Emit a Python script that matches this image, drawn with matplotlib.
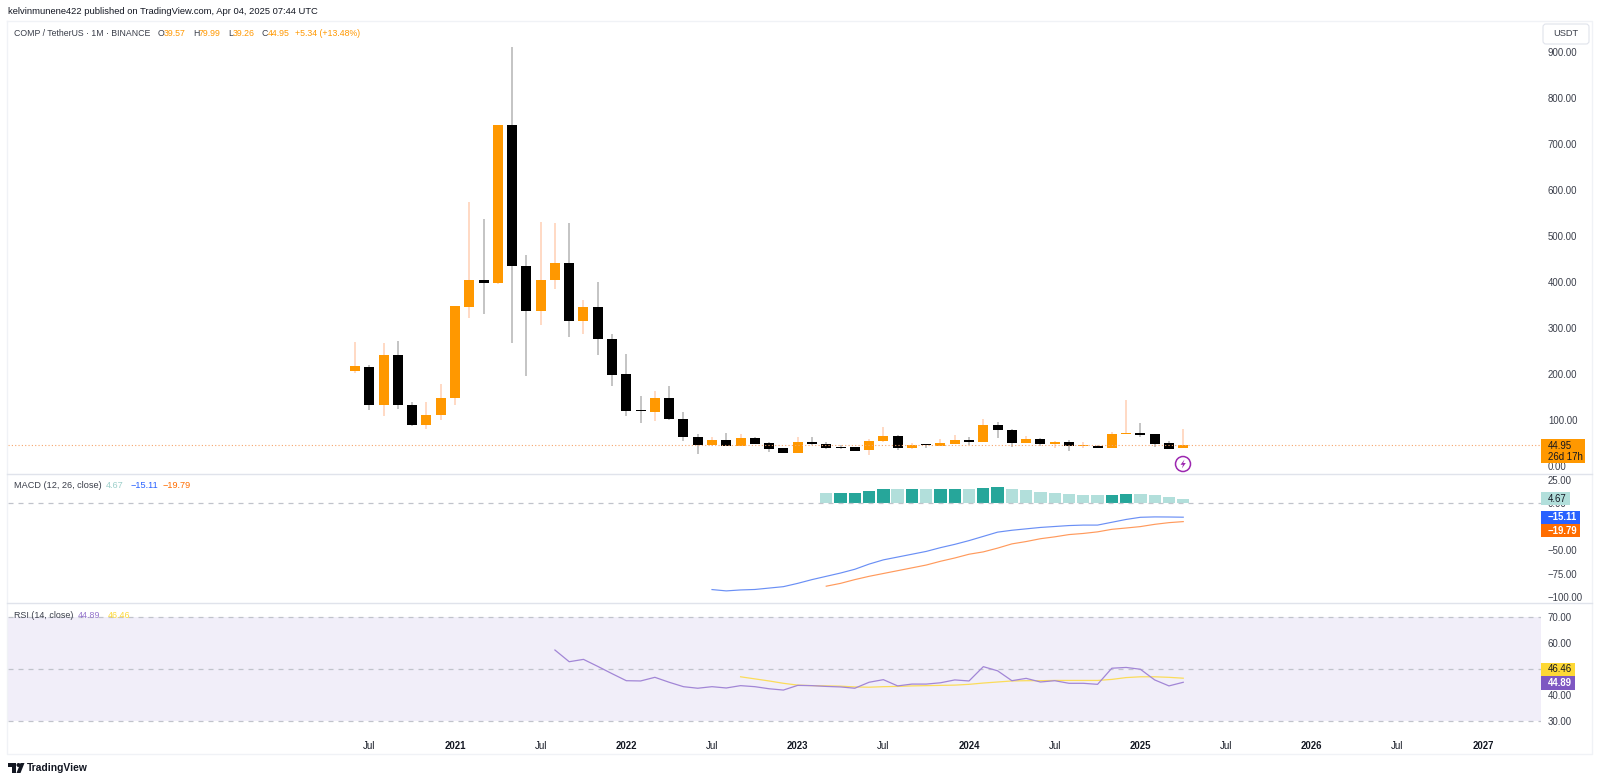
import numpy as np
from matplotlib import pyplot as plt
from matplotlib.patches import Rectangle, Circle, FancyBboxPatch, Polygon

plt.rcParams['font.family'] = ['Liberation Sans', 'DejaVu Sans']
plt.rcParams['axes.unicode_minus'] = False

# monthly candles, first one is Jun 2020
opens = [207.2, 216, 132.6, 241.3, 132.6, 89.1, 110.1, 147.8, 346.4, 404.3, 397.1, 741.3, 434.8, 336.2, 404.3,
         441, 315.2, 345.7, 276.8, 199.3, 120.5, 118.1, 148.5, 102.2, 63, 45.7, 56.5, 44.2, 60.1, 50,
         38.4, 29, 52.2, 47.8, 40.9, 40.9, 34, 54.3, 65.2, 39.1, 47.1, 43.5, 48.6, 56.5, 52.2,
         89.1, 78.9, 50, 58.7, 47.8, 51.4, 44.5, 43.5, 39.9, 70, 72, 68.8, 50, 39.57]
highs = [268.9, 219.6, 266.7, 272.5, 139.9, 138.4, 178.3, 347.5, 573.2, 536.2, 742, 910.9, 458.7, 530.4, 529,
         529, 360.9, 400, 287, 243.5, 152.2, 163.8, 173.9, 116.7, 68.8, 63.7, 71, 68.8, 62.3, 52.9,
         39, 62.3, 63, 52.2, 46.4, 41.5, 58, 85.5, 67.4, 49.3, 47.8, 58.7, 67.4, 62.3, 102.2,
         95.7, 80.3, 65.2, 60.8, 53.6, 55.8, 52.2, 45.7, 73, 143.5, 92.8, 69.5, 54.9, 79.99]
lows = [202.9, 121.7, 109.4, 123.9, 87.7, 81.2, 100, 133.3, 322.5, 330.4, 396, 268.1, 196.4, 306.5, 384.8,
        279.7, 287, 242, 173.9, 108, 92.8, 97.8, 100, 53.6, 26.1, 44.2, 43.5, 43.5, 47.8, 31.2,
        28, 28.5, 45.7, 36.2, 37, 33, 23.2, 51.4, 35.5, 36.2, 38.4, 43, 47.8, 45, 51.5,
        61.6, 42, 49.3, 43.5, 39.1, 33.6, 38.4, 38.4, 38.4, 69, 63.7, 42, 37, 39.26]
closes = [216.7, 132.6, 241.3, 132.6, 89.1, 110.9, 147.8, 347.1, 404.3, 397.1, 741.3, 434.8, 336.2, 404.3, 442,
          315.2, 345.7, 276.1, 197.8, 119.6, 120, 147.8, 101.4, 62.3, 45.7, 56.5, 44.2, 60.1, 48.6, 37,
          29, 51.4, 47.1, 39.9, 39.9, 33.3, 55, 65.2, 38.4, 46.4, 45, 50, 56.5, 52.2, 89.1,
          77.5, 50, 58.7, 47.1, 52.2, 43.5, 45.7, 39.9, 70.3, 72.5, 67.4, 48.6, 37.8, 44.95]

# MACD, months counted from Jun 2020
macd_start = 25
macd_line = [-92.1, -93.5, -92.5, -92, -90.5, -89, -85.5, -81.5, -78, -74.5, -70.5, -65, -60.5, -57.5, -54.5, -51.5,
             -47.5, -44, -40, -35.5, -31, -29, -27.5, -26, -25, -24, -23.5, -23.5, -20.5, -17.5, -15.2, -14.8, -14.9, -15.11]
signal_start = 33
signal_line = [-88.5, -85.5, -81.5, -78, -75, -72, -69, -66, -62, -58.5, -54.5, -52, -48, -43.5, -41, -38,
               -36, -33.6, -32.4, -30.7, -28, -26.6, -25.1, -22.7, -20.9, -19.79]
hist_values = [10.3, 11, 11, 12.8, 14.5, 14.5, 14.5, 14.5, 14.5, 14.5, 14.5, 16.3, 17, 14.5, 13.5, 12,
               11, 9.6, 8.9, 8.2, 8.5, 9.6, 9.6, 8.2, 6.4, 4.67]
hist_dark = [0, 1, 1, 1, 1, 0, 1, 0, 1, 1, 0, 1, 1, 0, 0, 0, 0, 0, 0, 0, 1, 1, 0, 0, 0, 0]

# RSI
rsi_start = 14
rsi_line = [57.3, 52.8, 53.7, 51, 48.2, 45.5, 45.4, 46.8, 44.9, 43.2, 42.6, 43.2, 42.7, 43.6, 43.2, 42.4, 41.9, 43.7,
            43.6, 43.3, 43.1, 42.6, 44.9, 45.9, 43.5, 44.2, 44.2, 44.7, 45.8, 45.4, 50.9, 49.3, 45.5, 46.4, 45, 45.5,
            44.5, 44.5, 44.1, 50.3, 50.6, 49.9, 45.8, 43.5, 44.89]
rsi_ma_start = 27
rsi_ma = [47, 46.2, 45.4, 44.5, 43.8, 43.6, 43.5, 43.4, 43.1, 43, 43.2, 43.3, 43.5, 43.6, 43.7, 43.8, 44.1, 44.6,
          45, 45.4, 45.5, 45.5, 45.6, 45.6, 45.6, 45.6, 46, 46.7, 47, 47, 46.8, 46.46]

time_ticks = [1, 7, 13, 19, 25, 31, 37, 43, 49, 55, 61, 67, 73, 79]
time_labels = ['Jul', '2021', 'Jul', '2022', 'Jul', '2023', 'Jul', '2024', 'Jul', '2025', 'Jul', '2026', 'Jul', '2027']
price_ticks = [0, 100, 200, 300, 400, 500, 600, 700, 800, 900]
macd_ticks = [25, 0, -25, -50, -75, -100]
rsi_ticks = [70, 60, 40, 30]

UP = '#ff9800'
DOWN = '#000000'
TEXT = '#131722'
AXIS_TEXT = '#3a3e4a'
W, H = 1600, 782
PANE_L, PANE_R = 8, 1541
X_SLOPE, X0 = 14.28, 355


def make_pane(top, bottom):
    return fig.add_axes([PANE_L / W, 1 - bottom / H, (PANE_R - PANE_L) / W, (bottom - top) / H])


def style_pane(ax):
    ax.set_xlim((PANE_L - X0) / X_SLOPE, (PANE_R - X0) / X_SLOPE)
    ax.yaxis.tick_right()
    ax.tick_params(axis='y', length=0, pad=5, labelsize=6.9, labelcolor=AXIS_TEXT)
    ax.tick_params(axis='x', length=0)
    ax.set_xticks([])
    for s in ax.spines.values():
        s.set_visible(False)


def fmt(v):
    return ('\u2212' if v < 0 else '') + '%.2f' % abs(v)


fig = plt.figure(figsize=(16, 7.82), dpi=100)
fig.patch.set_facecolor('white')

# price pane
ax_price = make_pane(21, 474)
style_pane(ax_price)
ax_price.set_ylim((466 - 474) / 0.46, (466 - 21) / 0.46)
idx = np.arange(len(closes))
opens_a, closes_a = np.array(opens), np.array(closes)
is_up = closes_a >= opens_a
wick_colors = ['#ffd8c2' if u else '#c2c2c2' for u in is_up]
body_colors = [UP if u else DOWN for u in is_up]
ax_price.vlines(idx, lows, highs, colors=wick_colors, linewidth=1.35, zorder=2)
body_h = np.maximum(np.abs(closes_a - opens_a), 1.5)
ax_price.bar(idx, body_h, bottom=np.minimum(opens_a, closes_a), width=0.7, color=body_colors, linewidth=0, zorder=3)
ax_price.axhline(closes[-1], color='#f7a56b', linewidth=0.8, linestyle=(0, (1, 2)), zorder=4)
ax_price.set_yticks(price_ticks, [fmt(v) for v in price_ticks])

# MACD pane
ax_macd = make_pane(474, 603)
style_pane(ax_macd)
ax_macd.set_ylim((503 - 603) / 0.94, (503 - 474) / 0.94)
hist_x = np.arange(len(hist_values)) + signal_start
hist_colors = ['#26a69a' if d else '#b2dfdb' for d in hist_dark]
ax_macd.bar(hist_x, hist_values, width=0.86, color=hist_colors, linewidth=0, zorder=2)
ax_macd.axhline(0, color='#c0c3cb', linewidth=0.9, linestyle=(0, (4, 4)), zorder=3)
ax_macd.plot(np.arange(len(macd_line)) + macd_start, macd_line, color='#6a8ff5', linewidth=0.85, zorder=4)
ax_macd.plot(np.arange(len(signal_line)) + signal_start, signal_line, color='#ff9a5c', linewidth=0.85, zorder=4)
ax_macd.set_yticks(macd_ticks, [fmt(v) for v in macd_ticks])

# RSI pane
ax_rsi = make_pane(603, 733)
style_pane(ax_rsi)
ax_rsi.set_ylim(50 + (669 - 733) / 2.6, 50 + (669 - 603) / 2.6)
ax_rsi.axhspan(30, 70, color='#f1eef9', linewidth=0, zorder=1)
for level in [70, 50, 30]:
    ax_rsi.axhline(level, color='#c0c3cb', linewidth=0.9, linestyle=(0, (4, 4)), zorder=2)
ax_rsi.plot(np.arange(len(rsi_ma)) + rsi_ma_start, rsi_ma, color='#fbdc5a', linewidth=0.9, zorder=3)
ax_rsi.plot(np.arange(len(rsi_line)) + rsi_start, rsi_line, color='#a286d6', linewidth=0.9, zorder=4)
ax_rsi.set_yticks(rsi_ticks, [fmt(v) for v in rsi_ticks])
ax_rsi.set_xticks(time_ticks, time_labels)
ax_rsi.tick_params(axis='x', pad=6, labelsize=6.9, labelcolor=TEXT)
for lab in ax_rsi.get_xticklabels():
    if lab.get_text() != 'Jul':
        lab.set_fontweight('bold')

# everything around the panes, in pixels
over = fig.add_axes([0, 0, 1, 1], facecolor='none')
over.set_xlim(0, W)
over.set_ylim(H, 0)
over.axis('off')

border = '#f0f2f6'
over.plot([7, 1592, 1592, 7, 7], [21, 21, 754, 754, 21], color=border, linewidth=1.0)
over.plot([7, 1592], [474, 474], color='#e0e3eb', linewidth=1.0)
over.plot([7, 1592], [603, 603], color='#e0e3eb', linewidth=1.0)

over.text(8, 11, 'kelvinmunene422 published on TradingView.com, Apr 04, 2025 07:44 UTC', fontsize=6.72,
          color=TEXT, va='center')


def legend_row(y, size, items):
    for x, s, c in items:
        over.text(x, y, s, fontsize=size, color=c, va='center')


legend_row(33, 6.3, [(14, 'COMP / TetherUS \u00b7 1M \u00b7 BINANCE', AXIS_TEXT),
                     (158, 'O', AXIS_TEXT), (163.5, '39.57', UP),
                     (193, 'H', AXIS_TEXT), (198.5, '79.99', UP),
                     (228, 'L', AXIS_TEXT), (232.5, '39.26', UP),
                     (262, 'C', AXIS_TEXT), (267.5, '44.95', UP),
                     (295, '+5.34 (+13.48%)', UP)])
legend_row(486, 6.6, [(14, 'MACD (12, 26, close)', AXIS_TEXT), (106, '4.67', '#9ccfca'),
                      (131, '\u221215.11', '#2962ff'), (163, '\u221219.79', '#ff6d00')])
legend_row(616, 6.4, [(14, 'RSI (14, close)', AXIS_TEXT), (78, '44.89', '#9575cd'), (108, '46.46', '#fdd835')])

# USDT button
over.add_patch(FancyBboxPatch((1545, 26), 42, 16, boxstyle='round,pad=2,rounding_size=3', facecolor='white',
                              edgecolor='#e0e3eb', linewidth=0.8))
over.text(1566, 34, 'USDT', fontsize=6.7, color=AXIS_TEXT, ha='center', va='center')


def price_tag(x0, x1, y0, y1, color, text, tcolor, weight='normal'):
    over.add_patch(Rectangle((x0, y0), x1 - x0, y1 - y0, facecolor=color, edgecolor='none', zorder=5))
    over.text(1548, (y0 + y1) / 2, text, fontsize=6.9, color=tcolor, va='center', fontweight=weight, zorder=6)


# last price box has two rows
over.add_patch(Rectangle((1541, 439), 44, 24, facecolor=UP, edgecolor='none', zorder=5))
over.text(1548, 446, '44.95', fontsize=6.9, color=TEXT, va='center', zorder=6)
over.text(1548, 456.5, '26d 17h', fontsize=6.9, color=TEXT, va='center', zorder=6)
price_tag(1541, 1570, 492, 505, '#b2dfdb', '4.67', TEXT)
price_tag(1541, 1580, 511, 524, '#2962ff', '\u221215.11', 'white', 'bold')
price_tag(1541, 1580, 524, 537, '#ff6d00', '\u221219.79', 'white', 'bold')
price_tag(1541, 1575, 663, 676, '#fdd835', '46.46', TEXT)
price_tag(1541, 1575, 676, 690, '#7e57c2', '44.89', 'white', 'bold')

# lightning mark under the last candle
over.add_patch(Circle((1183, 464), 7.5, facecolor='white', edgecolor='#9c27b0', linewidth=1.1, zorder=5))
over.add_patch(Polygon([(1184.5, 459.5), (1180.5, 464.8), (1183, 464.8), (1181.8, 468.5), (1185.8, 463),
                        (1183.2, 463)], facecolor='#9c27b0', edgecolor='none', zorder=6))

# TradingView logo
over.add_patch(Polygon([(8, 763), (16, 763), (16, 773), (12, 773), (12, 767), (8, 767)], facecolor=TEXT,
                       edgecolor='none'))
over.add_patch(Circle((18.5, 765), 2, facecolor=TEXT, edgecolor='none'))
over.add_patch(Polygon([(20.5, 763), (24.5, 763), (20.5, 773), (16.5, 773)], facecolor=TEXT, edgecolor='none'))
over.text(26.5, 768, 'TradingView', fontsize=7.4, color=TEXT, va='center', fontweight='bold')

fig.savefig('out.png', dpi=100)
